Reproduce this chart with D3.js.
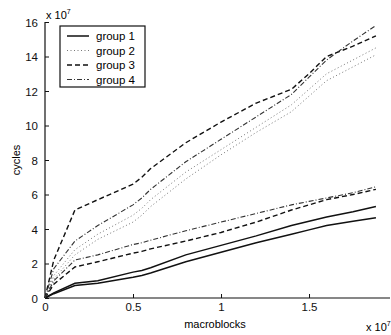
<!DOCTYPE html>
<html>
<head>
<meta charset="utf-8">
<script src="https://cdn.jsdelivr.net/npm/d3@7"></script>
<style>
  body { margin: 0; background: #fff; }
  svg { display: block; font-family: "Liberation Sans", Arial, sans-serif; }
  .axis path, .axis line { stroke: #111; }
  .axis text { font-size: 11.5px; fill: #111; }
</style>
</head>
<body>
<div id="chart"></div>
<script>
// macroblocks (x 10^7)
const macroblocks = [0, 0.05, 0.17, 0.3, 0.5, 0.55, 0.6, 0.8, 1.0, 1.2, 1.4, 1.5, 1.6, 1.75, 1.88];

// cycles (x 10^7), two runs per group
const group1a = [0, 0.3, 0.85, 1.0, 1.5, 1.6, 1.75, 2.5, 3.05, 3.6, 4.2, 4.45, 4.7, 5.0, 5.3];
const group1b = [0, 0.25, 0.72, 0.85, 1.2, 1.3, 1.45, 2.1, 2.65, 3.2, 3.7, 3.95, 4.2, 4.45, 4.65];
const group2a = [0, 1.3, 2.8, 3.7, 4.8, 5.2, 5.7, 7.3, 8.6, 9.9, 11.2, 12.1, 13.0, 13.8, 14.5];
const group2b = [0, 1.1, 2.5, 3.4, 4.4, 4.8, 5.3, 6.9, 8.3, 9.6, 10.8, 11.7, 12.6, 13.4, 14.1];
const group3a = [0, 2.2, 5.1, 5.7, 6.6, 7.0, 7.5, 9.0, 10.2, 11.3, 12.1, 13.0, 14.0, 14.6, 15.2];
const group3b = [0, 0.8, 1.8, 2.1, 2.6, 2.7, 2.85, 3.3, 3.8, 4.4, 5.1, 5.4, 5.7, 6.0, 6.3];
const group4a = [0, 1.7, 3.3, 4.2, 5.4, 5.8, 6.3, 7.9, 9.2, 10.5, 11.8, 12.8, 13.8, 14.9, 15.8];
const group4b = [0, 1.0, 2.2, 2.5, 3.1, 3.2, 3.35, 3.9, 4.4, 4.9, 5.4, 5.6, 5.8, 6.1, 6.45];

const legendLabels = ["group 1", "group 2", "group 3", "group 4"];
const xTicks = [0, 0.5, 1, 1.5];
const yTicks = [0, 2, 4, 6, 8, 10, 12, 14, 16];

const width = 391, height = 335;
const margin = { top: 22, right: 1, bottom: 37, left: 45 };

const dashes = ["none", "1,2.5", "5,3", "5,2,1,2"];
const strokes = ["#111", "#777", "#111", "#333"];
const widths = [1.5, 1, 1.4, 1.1];

const series = [
  { g: 0, values: group1a }, { g: 0, values: group1b },
  { g: 1, values: group2a }, { g: 1, values: group2b },
  { g: 2, values: group3a }, { g: 2, values: group3b },
  { g: 3, values: group4a }, { g: 3, values: group4b }
];

const svg = d3.select("#chart").append("svg")
  .attr("width", width)
  .attr("height", height);

const x = d3.scaleLinear().domain([0, 1.96]).range([margin.left, width - margin.right]);
const y = d3.scaleLinear().domain([0, 16]).range([height - margin.bottom, margin.top]);

// axes (MATLAB-style inward ticks)
const xAxis = svg.append("g")
  .attr("class", "axis")
  .attr("transform", `translate(0,${y(0)})`)
  .call(d3.axisBottom(x).tickValues(xTicks).tickSize(-4).tickPadding(5).tickFormat(d => d));
xAxis.select(".domain").attr("d", `M${x(0)},0H${x(1.96)}`).attr("stroke-width", 1.2);

const yAxis = svg.append("g")
  .attr("class", "axis")
  .attr("transform", `translate(${x(0)},0)`)
  .call(d3.axisLeft(y).tickValues(yTicks).tickSize(-4).tickPadding(7));
yAxis.select(".domain").attr("d", `M0,${y(0)}V${y(16)}`).attr("stroke-width", 1.2);
yAxis.selectAll("text").attr("dy", "0.35em");

// lines
const line = d3.line()
  .x((d, i) => x(macroblocks[i]))
  .y(d => y(d));

svg.append("g")
  .selectAll("path")
  .data(series)
  .join("path")
  .attr("d", d => line(d.values))
  .attr("fill", "none")
  .attr("stroke", d => strokes[d.g])
  .attr("stroke-width", d => widths[d.g])
  .attr("stroke-dasharray", d => dashes[d.g]);

// axis labels
svg.append("text")
  .attr("x", 215).attr("y", 328)
  .attr("text-anchor", "middle")
  .style("font-size", "11px")
  .text("macroblocks");

svg.append("text")
  .attr("transform", "translate(20,160) rotate(-90)")
  .attr("text-anchor", "middle")
  .style("font-size", "11px")
  .text("cycles");

// exponent labels
const expY = svg.append("text").attr("x", 46).attr("y", 19).style("font-size", "11px");
expY.append("tspan").text("x 10");
expY.append("tspan").attr("dy", -5).style("font-size", "7px").text("7");

const expX = svg.append("text").attr("x", 366).attr("y", 331).style("font-size", "11px");
expX.append("tspan").text("x 10");
expX.append("tspan").attr("dy", -5).style("font-size", "7px").text("7");

// legend
const legend = svg.append("g").attr("transform", "translate(60,26)");
legend.append("rect")
  .attr("width", 85).attr("height", 61)
  .attr("fill", "#fff")
  .attr("stroke", "#111")
  .attr("stroke-width", 1.2);

const item = legend.selectAll("g.item")
  .data(legendLabels)
  .join("g")
  .attr("class", "item")
  .attr("transform", (d, i) => `translate(0,${10 + i * 14.5})`);

item.append("line")
  .attr("x1", 7).attr("x2", 29)
  .attr("stroke", (d, i) => strokes[i])
  .attr("stroke-width", (d, i) => widths[i])
  .attr("stroke-dasharray", (d, i) => dashes[i]);

item.append("text")
  .attr("x", 36).attr("dy", "0.35em")
  .style("font-size", "11.5px")
  .text(d => d);
</script>
</body>
</html>
